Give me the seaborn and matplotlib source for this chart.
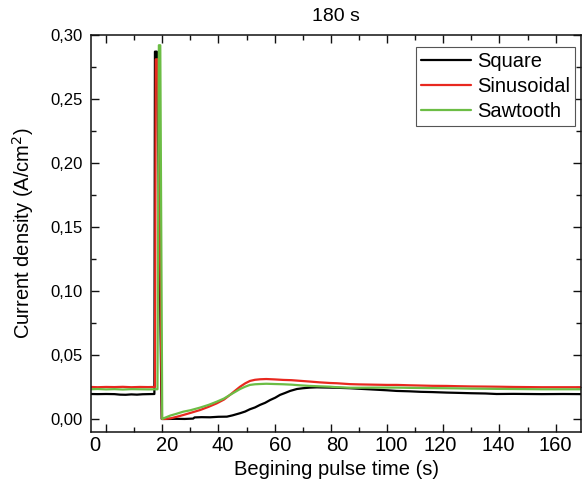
import numpy as np
import pandas as pd
import matplotlib
matplotlib.use("Agg")
import matplotlib.pyplot as plt
import matplotlib.transforms as mtransforms
from matplotlib.ticker import MultipleLocator
import seaborn as sns

# ---- data -----------------------------------------------------------------
series_names = ["Square", "Sinusoidal", "Sawtooth"]

t_square = [-5.5, -3, 0, 3, 5, 7, 9, 11, 13, 15, 17.2, 17.4, 18.1, 19.8,
            22, 25, 28, 31, 31.5, 34, 37, 40, 43, 45, 47.7, 49.5, 51.2, 53,
            54.8, 56.6, 58.4, 60.2, 61.9, 63.7, 65.5, 67.9, 70, 72.6, 75, 77,
            79.7, 83, 86.8, 90, 95, 100, 103.4, 108, 112, 116, 121.2, 125,
            130, 135, 139, 145, 150, 155, 162.7, 169.5]
j_square = [0.0195, 0.0194, 0.0195, 0.0194, 0.0190, 0.0189, 0.0192, 0.0190,
            0.0193, 0.0194, 0.0195, 0.2870, 0.2870, 0.0000,
            0.0000, 0.0001, 0.0000, 0.0003, 0.0012, 0.0014, 0.0013, 0.0017,
            0.0018, 0.0028, 0.0045, 0.0058, 0.0076, 0.0090, 0.0110, 0.0126,
            0.0148, 0.0166, 0.0188, 0.0203, 0.0219, 0.0234, 0.0240, 0.0245,
            0.0247, 0.0246, 0.0245, 0.0243, 0.0240, 0.0236, 0.0230, 0.0224,
            0.0219, 0.0216, 0.0212, 0.0210, 0.0206, 0.0204, 0.0201, 0.0199,
            0.0195, 0.0196, 0.0195, 0.0194, 0.0195, 0.0194]

t_sinus = [-5.5, -3, 0, 3, 6, 9, 12, 15, 17.4, 17.7, 18.4, 19.9, 21, 23, 25,
           27.5, 30, 33.5, 36.5, 39.4, 42, 44.1, 46, 47.7, 49.5, 51.2, 53,
           54.8, 57, 60, 63.1, 66, 69, 72.6, 76, 79.7, 82.1, 86.8, 90, 95,
           100, 103.4, 108, 112, 116, 121.2, 125, 130, 135, 139, 145, 150,
           155, 162.7, 169.5]
j_sinus = [0.0250, 0.0248, 0.0250, 0.0249, 0.0251, 0.0248, 0.0250, 0.0249,
           0.0250, 0.2810, 0.2810, 0.0000, 0.0000, 0.0005, 0.0016, 0.0031,
           0.0047, 0.0070, 0.0095, 0.0122, 0.0152, 0.0188, 0.0222, 0.0252,
           0.0278, 0.0297, 0.0306, 0.0310, 0.0312, 0.0309, 0.0305, 0.0303,
           0.0298, 0.0292, 0.0286, 0.0281, 0.0279, 0.0272, 0.0270, 0.0268,
           0.0266, 0.0266, 0.0263, 0.0261, 0.0259, 0.0258, 0.0256, 0.0254,
           0.0253, 0.0252, 0.0250, 0.0249, 0.0248, 0.0248, 0.0248]

t_saw = [-5.5, -3, 0, 3, 6, 9, 12, 15, 18.3, 18.8, 19.3, 20.0, 20.8, 22.8,
         25, 27.5, 30, 33.5, 36.5, 39.4, 42, 44.1, 46, 47.7, 49.5, 51.2, 53,
         54.8, 57, 60, 63.1, 66, 69, 72.6, 76, 79.7, 82.1, 86.8, 90, 95, 100,
         103.4, 108, 112, 116, 121.2, 125, 130, 135, 139, 145, 150, 155,
         162.7, 169.5]
j_saw = [0.0232, 0.0234, 0.0231, 0.0233, 0.0230, 0.0233, 0.0232, 0.0231,
         0.0232, 0.2920, 0.2920, 0.0000, 0.0008, 0.0026, 0.0040, 0.0057,
         0.0068, 0.0089, 0.0110, 0.0135, 0.0160, 0.0188, 0.0212, 0.0234,
         0.0252, 0.0266, 0.0271, 0.0273, 0.0275, 0.0273, 0.0271, 0.0268,
         0.0263, 0.0258, 0.0255, 0.0252, 0.0248, 0.0244, 0.0244, 0.0245,
         0.0245, 0.0245, 0.0243, 0.0242, 0.0241, 0.0240, 0.0239, 0.0237,
         0.0236, 0.0235, 0.0234, 0.0233, 0.0232, 0.0232, 0.0232]

x_ticks = [0, 20, 40, 60, 80, 100, 120, 140, 160]
x_tick_labels = ["0", "20", "40", "60", "80", "100", "120", "140", "160"]
y_ticks = [0.00, 0.05, 0.10, 0.15, 0.20, 0.25, 0.30]
y_tick_labels = ["0,00", "0,05", "0,10", "0,15", "0,20", "0,25", "0,30"]

colors = {"Square": "#000000", "Sinusoidal": "#e8281f", "Sawtooth": "#6cbd45"}

df = pd.concat([
    pd.DataFrame({"t": t_square, "j": j_square, "Waveform": "Square"}),
    pd.DataFrame({"t": t_sinus, "j": j_sinus, "Waveform": "Sinusoidal"}),
    pd.DataFrame({"t": t_saw, "j": j_saw, "Waveform": "Sawtooth"}),
], ignore_index=True)

# ---- style ----------------------------------------------------------------
sns.set_theme(style="ticks")
plt.rcParams["font.family"] = ["Liberation Sans", "DejaVu Sans"]
plt.rcParams.update({"text.color": "black", "axes.labelcolor": "black",
                     "xtick.color": "black", "ytick.color": "black"})

fig = plt.figure(figsize=(5.84, 4.84), dpi=100)
ax = fig.add_axes([91 / 584, 52.5 / 484, 490 / 584, 396.5 / 484])

sns.lineplot(data=df, x="t", y="j", hue="Waveform", hue_order=series_names,
             palette=colors, estimator=None, sort=False, linewidth=1.6,
             ax=ax, legend=False)

ax.set_xlim(-5.35, 169.0)
ax.set_ylim(-0.0098, 0.30)

ax.set_xticks(x_ticks)
ax.set_xticklabels(x_tick_labels, fontsize=14.5)
ax.set_yticks(y_ticks)
ax.set_yticklabels(y_tick_labels, fontsize=12)
ax.xaxis.set_minor_locator(MultipleLocator(10))
ax.yaxis.set_minor_locator(MultipleLocator(0.025))

ax.tick_params(which="both", direction="in", top=True, right=True,
               color="#111111", labelcolor="black", width=1.0)
ax.tick_params(which="major", length=5.5)
ax.tick_params(which="minor", length=3.5)
ax.tick_params(axis="x", which="major", pad=3)
ax.tick_params(axis="y", which="major", pad=6)

for sp in ax.spines.values():
    sp.set_linewidth(1.1)
    sp.set_color("#111111")

# small horizontal nudges of the x tick labels (pixels)
x_label_shift = [-11, 4.5, 4.5, 5.5, 6, 4.5, -3, -1, 0]
for lab, dx in zip(ax.get_xticklabels(), x_label_shift):
    lab.set_transform(lab.get_transform() +
                      mtransforms.ScaledTranslation(dx / 100, 0, fig.dpi_scale_trans))

ax.set_xlabel("Begining pulse time (s)", fontsize=14.5, labelpad=4, color="black")
ax.set_ylabel("Current density (A/cm$^2$)", fontsize=14.5, labelpad=10, color="black")
ax.set_title("180 s", fontsize=14, pad=10, color="black")

handles = [plt.Line2D([], [], color=colors[n], linewidth=1.6) for n in series_names]
leg = ax.legend(handles, series_names, loc="upper right",
                bbox_to_anchor=(0.988, 0.970), borderaxespad=0,
                fontsize=14.5, frameon=True, fancybox=False, framealpha=1,
                edgecolor="#555555", handlelength=2.5, handletextpad=0.3,
                borderpad=0.25, labelspacing=0.3)
leg.get_frame().set_linewidth(0.8)
for txt in leg.get_texts():
    txt.set_color("black")

fig.savefig("out.png", dpi=100)
